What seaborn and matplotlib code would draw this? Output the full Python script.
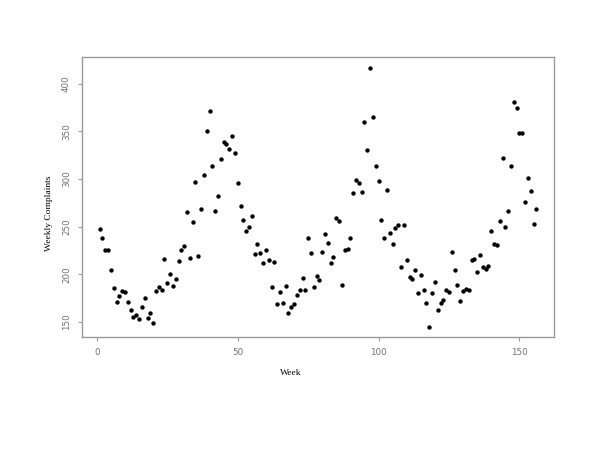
# Weekly complaints scatter (R base graphics look)
import numpy as np
import pandas as pd
import seaborn as sns
from matplotlib import pyplot as plt

# -----------------------------------------------------------------
# data
# -----------------------------------------------------------------
weeks = list(range(1, 157))
complaints = [
    247, 238, 225, 226, 205, 186, 171, 177, 182, 181,
    171, 162, 155, 157, 153, 166, 175, 154, 159, 149,
    182, 187, 183, 216, 191, 200, 188, 195, 214, 225,
    230, 265, 217, 255, 297, 219, 269, 304, 350, 371,
    314, 266, 282, 321, 339, 337, 332, 345, 327, 296,
    272, 257, 245, 250, 261, 221, 232, 222, 212, 226,
    215, 187, 213, 169, 181, 170, 188, 159, 166, 169,
    178, 183, 196, 183, 238, 222, 187, 198, 194, 223,
    242, 233, 212, 218, 259, 256, 189, 226, 227, 238,
    285, 299, 296, 286, 360, 330, 417, 365, 314, 298,
    257, 238, 288, 243, 232, 249, 252, 208, 252, 215,
    197, 195, 204, 180, 199, 184, 170, 145, 180, 192,
    162, 170, 173, 183, 181, 223, 204, 189, 172, 182,
    185, 184, 215, 216, 202, 220, 208, 206, 209, 245,
    232, 231, 256, 322, 250, 266, 314, 381, 375, 348,
    348, 276, 301, 287, 253, 268,
]

df = pd.DataFrame({"week": weeks, "complaints": complaints})

# -----------------------------------------------------------------
# plot
# -----------------------------------------------------------------
sns.set_style("white")
fig = plt.figure(figsize=(6, 4.5), dpi=100)
ax = fig.add_axes([0.137, 0.251, 0.786, 0.622])

sns.scatterplot(data=df, x="week", y="complaints", ax=ax,
                color="black", s=10, linewidth=0)

ax.margins(x=0.04, y=0.04)
ax.set_xticks([0, 50, 100, 150])
ax.set_yticks([150, 200, 250, 300, 350, 400])

for sp in ax.spines.values():
    sp.set_color("#9a9a9a")
    sp.set_linewidth(1.0)

ax.tick_params(axis="both", direction="out", length=3, width=0.8,
               color="#9a9a9a", labelcolor="#707070", labelsize=6.3,
               bottom=True, left=True, pad=5)
for lab in ax.get_yticklabels():
    lab.set_rotation(90)
    lab.set_va("center")

serif = {"family": "Liberation Serif", "size": 6.8, "color": "black"}
ax.set_xlabel("Week", fontdict=serif)
ax.set_ylabel("Weekly Complaints", fontdict=serif)
ax.xaxis.set_label_coords(0.443, -0.114)
ax.yaxis.set_label_coords(-0.062, 0.443)

plt.savefig("out.png", dpi=100)
